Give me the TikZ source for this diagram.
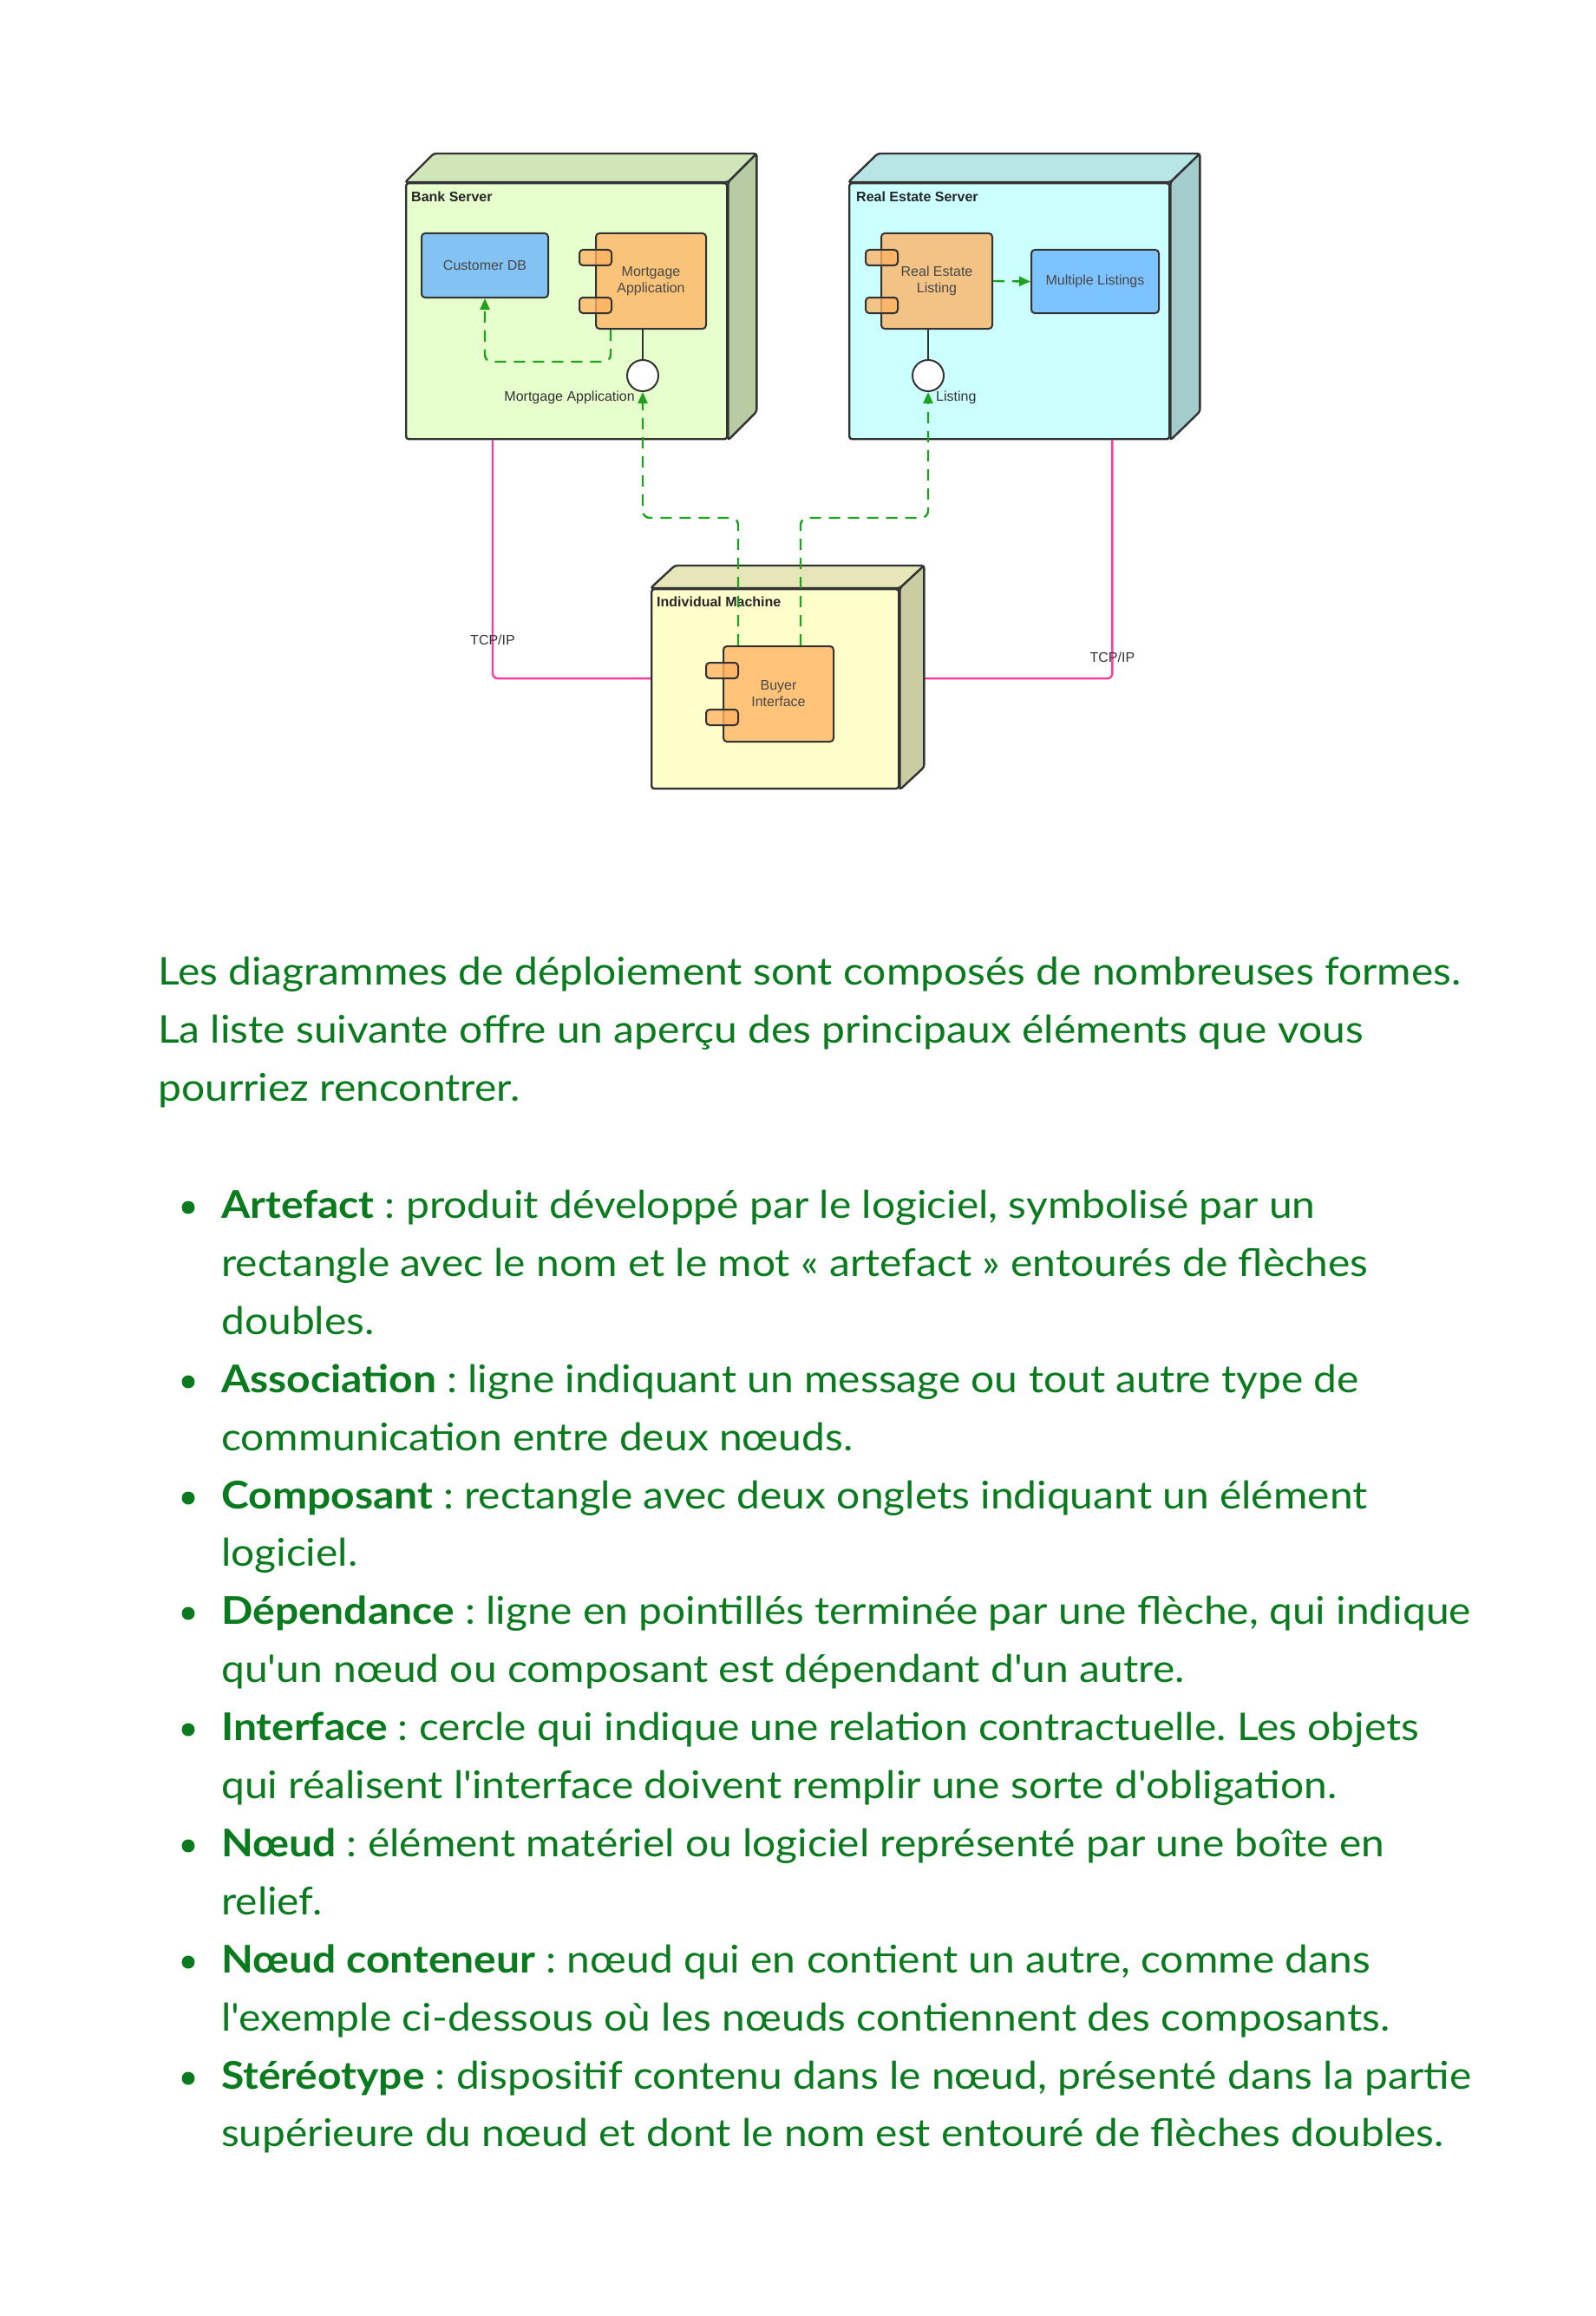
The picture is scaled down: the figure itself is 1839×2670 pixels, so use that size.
\documentclass[tikz,border=0pt]{standalone}
\usepackage{fontspec}
\setmainfont{Liberation Sans}
\newfontfamily\lato{Lato}[Ligatures=TeXOff, FakeStretch=1.09]
\usetikzlibrary{arrows.meta,backgrounds}
\definecolor{bankF}{HTML}{E6FFCC}
\definecolor{bankT}{HTML}{D0E6B8}
\definecolor{bankS}{HTML}{B8CCA4}
\definecolor{reF}{HTML}{CCFFFF}
\definecolor{reT}{HTML}{B8E6E6}
\definecolor{reS}{HTML}{A3CCCC}
\definecolor{inF}{HTML}{FFFFCC}
\definecolor{inT}{HTML}{E6E6B8}
\definecolor{inS}{HTML}{CCCCA3}
\definecolor{compC}{HTML}{FFB261}
\definecolor{dbC}{HTML}{66B2FF}
\definecolor{tcpC}{HTML}{FF3C9E}
\definecolor{depC}{HTML}{1FA01F}
\definecolor{lineC}{HTML}{333333}
\definecolor{txtG}{RGB}{10,122,30}
\frenchspacing
\begin{document}
\begin{tikzpicture}[x=1pt,y=-1pt,
  front/.style={draw=lineC, line width=2.4pt, rounded corners=3pt, anchor=north west, inner sep=0pt},
  face/.style={draw=lineC, line width=2.4pt, rounded corners=3pt},
  title/.style={font=\fontsize{16}{19}\selectfont\bfseries, text=black!85, anchor=west, inner sep=0pt},
  comp/.style={draw=lineC, line width=2pt, fill=compC, fill opacity=0.77, text opacity=1, rounded corners=4pt, inner sep=0pt, font=\fontsize{16}{19}\selectfont, text=black!72, align=center, anchor=north west},
  tab/.style={draw=lineC, line width=2pt, fill=compC, fill opacity=0.77, rounded corners=4pt, inner sep=0pt, minimum width=37pt, minimum height=18pt, anchor=north west},
  iface/.style={circle, draw=lineC, line width=2pt, fill=white, minimum size=36pt, inner sep=0pt},
  lbl/.style={font=\fontsize{16}{19}\selectfont, text=black!80, inner sep=0pt},
  link/.style={draw=lineC, line width=2pt},
  dep/.style={draw=depC, line width=2.4pt, dash pattern=on 13pt off 9pt, rounded corners=8pt, -{Triangle[length=13pt,width=11pt]}},
  tcp/.style={draw=tcpC, line width=2.4pt, rounded corners=6pt},
  tcpl/.style={font=\fontsize{16}{19}\selectfont, text=black!80, inner sep=0pt},
  para/.style={anchor=base west, inner sep=0pt, text=txtG, font=\lato\fontsize{44}{52}\selectfont\frenchspacing},
  bul/.style={circle, fill=txtG, minimum size=15pt, inner sep=0pt}
]
\useasboundingbox (0,0) rectangle (1839,2670);

% ---------- Bank Server ----------
\node[front, fill=bankF, minimum width=370pt, minimum height=295pt] (bank) at (467,210) {};
\draw[face, fill=bankT] (bank.north west) -- ++(33,-33) -- ([shift={(33,-33)}]bank.north east) -- (bank.north east) -- cycle;
\draw[face, fill=bankS] (bank.north east) -- ++(33,-33) -- ([shift={(33,-33)}]bank.south east) -- (bank.south east) -- cycle;
\node[title] (bankTitle) at (474,227) {Bank Server};
\node[comp, fill=dbC, minimum width=146pt, minimum height=74pt] (db) at (485,268) {Customer DB};
\node[comp, minimum width=127pt, minimum height=110pt] (mort) at (686,268) {Mortgage\\Application};
\node[tab] (mortA) at ([shift={(-19,19)}]mort.north west) {};
\node[tab] (mortB) at ([shift={(-19,74)}]mort.north west) {};
\node[iface] (mi) at (741,433) {};
\draw[link] (mi.north) -- (mi.north |- mort.south);
\node[lbl, anchor=east] (miL) at (732,458) {Mortgage Application};

% ---------- Real Estate Server ----------
\node[front, fill=reF, minimum width=369pt, minimum height=295pt] (re) at (978,210) {};
\draw[face, fill=reT] (re.north west) -- ++(34,-33) -- ([shift={(34,-33)}]re.north east) -- (re.north east) -- cycle;
\draw[face, fill=reS] (re.north east) -- ++(34,-33) -- ([shift={(34,-33)}]re.south east) -- (re.south east) -- cycle;
\node[title] (reTitle) at (987,227) {Real Estate Server};
\node[comp, minimum width=128pt, minimum height=110pt] (rel) at (1015,268) {Real Estate\\Listing};
\node[tab] (relA) at ([shift={(-18,19)}]rel.north west) {};
\node[tab] (relB) at ([shift={(-18,74)}]rel.north west) {};
\node[comp, fill=dbC, minimum width=147pt, minimum height=73pt] (ml) at (1188,287) {Multiple Listings};
\node[iface] (ri) at (1070,433) {};
\draw[link] (ri.north) -- (ri.north |- rel.south);
\node[lbl, anchor=west] (riL) at (1079,458) {Listing};
\draw[dep] (rel.east) -- (ml.west);

% ---------- Individual Machine ----------
\node[front, fill=inF, minimum width=285pt, minimum height=230pt] (indiv) at (750,678) {};
\draw[face, fill=inT] (indiv.north west) -- ++(28,-26) -- ([shift={(28,-26)}]indiv.north east) -- (indiv.north east) -- cycle;
\draw[face, fill=inS] (indiv.north east) -- ++(28,-26) -- ([shift={(28,-26)}]indiv.south east) -- (indiv.south east) -- cycle;
\node[title] (inTitle) at (757,694) {Individual Machine};
\node[comp, minimum width=127pt, minimum height=110pt] (buyer) at (833,744) {Buyer\\Interface};
\node[tab] (buyA) at ([shift={(-20,19)}]buyer.north west) {};
\node[tab] (buyB) at ([shift={(-20,73)}]buyer.north west) {};

% ---------- connectors ----------
\begin{scope}[on background layer]
\fill[white] (0,0) rectangle (1839,2670);
\draw[tcp] ([xshift=101pt]bank.south west) |- node[pos=0.42, tcpl] {TCP/IP} ([yshift=12pt]indiv.west);
\draw[tcp] ([yshift=12pt]indiv.east) -| node[pos=0.545, tcpl] {TCP/IP} ([xshift=-67pt]re.south east);
\end{scope}
\draw[dep] ([xshift=18pt]buyer.north west) -- ++(0,-147) -| (mi.south);
\draw[dep] ([xshift=90pt]buyer.north west) -- ++(0,-147) -| (ri.south);
\draw[dep] ([xshift=18pt]mort.south west) -- ++(0,37) -| (db.south);

% ---------- text ----------
\node[para] (p1) at (182,1135) {Les diagrammes de déploiement sont composés de nombreuses formes.};
\node[para] (p2) at (182,1202) {La liste suivante offre un aperçu des principaux éléments que vous};
\node[para] (p3) at (182,1269) {pourriez rencontrer.};

\node[bul] (u1) at (217,1392) {};
\node[para] (l1) at (255,1404) {\textbf{Artefact} : produit développé par le logiciel, symbolisé par un};
\node[para] (l2) at (255,1471) {rectangle avec le nom et le mot « artefact » entourés de flèches};
\node[para] (l3) at (255,1538) {doubles.};
\node[bul] (u2) at (217,1593) {};
\node[para] (l4) at (255,1605) {\textbf{Association} : ligne indiquant un message ou tout autre type de};
\node[para] (l5) at (255,1672) {communication entre deux nœuds.};
\node[bul] (u3) at (217,1727) {};
\node[para] (l6) at (255,1739) {\textbf{Composant} : rectangle avec deux onglets indiquant un élément};
\node[para] (l7) at (255,1805) {logiciel.};
\node[bul] (u4) at (217,1860) {};
\node[para] (l8) at (255,1872) {\textbf{Dépendance} : ligne en pointillés terminée par une flèche, qui indique};
\node[para] (l9) at (255,1939) {qu'un nœud ou composant est dépendant d'un autre.};
\node[bul] (u5) at (217,1994) {};
\node[para] (l10) at (255,2006) {\textbf{Interface} : cercle qui indique une relation contractuelle. Les objets};
\node[para] (l11) at (255,2073) {qui réalisent l'interface doivent remplir une sorte d'obligation.};
\node[bul] (u6) at (217,2128) {};
\node[para] (l12) at (255,2140) {\textbf{Nœud} : élément matériel ou logiciel représenté par une boîte en};
\node[para] (l13) at (255,2207) {relief.};
\node[bul] (u7) at (217,2262) {};
\node[para] (l14) at (255,2274) {\textbf{Nœud conteneur} : nœud qui en contient un autre, comme dans};
\node[para] (l15) at (255,2341) {l'exemple ci-dessous où les nœuds contiennent des composants.};
\node[bul] (u8) at (217,2396) {};
\node[para] (l16) at (255,2408) {\textbf{Stéréotype} : dispositif contenu dans le nœud, présenté dans la partie};
\node[para] (l17) at (255,2474) {supérieure du nœud et dont le nom est entouré de flèches doubles.};
\end{tikzpicture}
\end{document}
